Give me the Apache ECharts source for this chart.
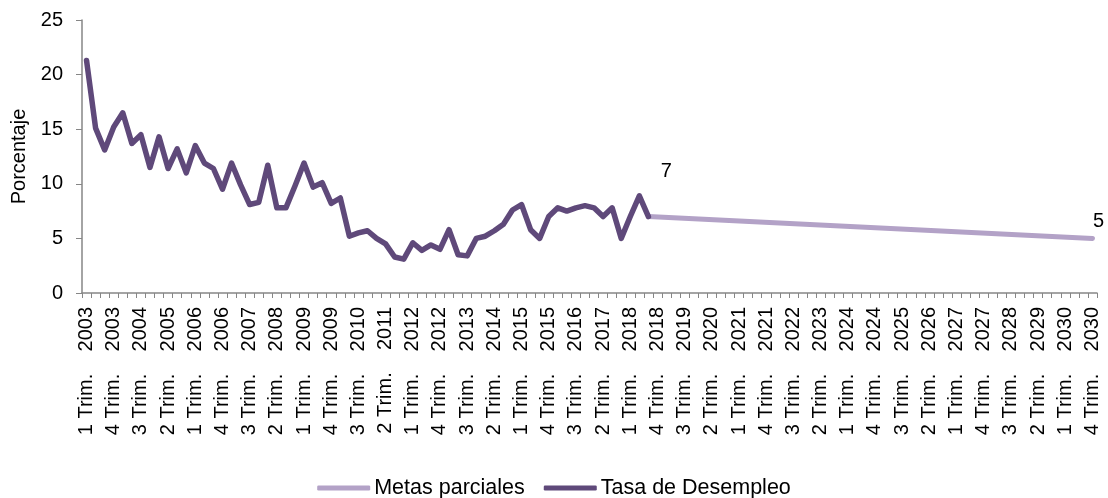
<!DOCTYPE html>
<html>
<head>
<meta charset="utf-8">
<script src="https://cdn.jsdelivr.net/npm/echarts@6/dist/echarts.min.js"></script>
<style>
  html, body { margin: 0; padding: 0; background: #fff; }
  #chart { width: 1108px; height: 498px; }
</style>
</head>
<body>
<div id="chart"></div>
<script>
// Quarter and year names used for the category axis (1 Trim. 2003 ... 4 Trim. 2030)
const years = [2003, 2004, 2005, 2006, 2007, 2008, 2009, 2010, 2011, 2012, 2013, 2014, 2015, 2016,
  2017, 2018, 2019, 2020, 2021, 2022, 2023, 2024, 2025, 2026, 2027, 2028, 2029, 2030];
const quarters = ['1 Trim.', '2 Trim.', '3 Trim.', '4 Trim.'];

// Quarterly unemployment rate (%), from 1 Trim. 2003 onward
const tasaDesempleo = [
  21.3, 15.1, 13.1, 15.2, 16.5, 13.7, 14.5, 11.5,
  14.3, 11.4, 13.2, 11.0, 13.5, 11.9, 11.4, 9.5,
  11.9, 9.9, 8.1, 8.3, 11.7, 7.8, 7.8, 9.8,
  11.9, 9.7, 10.1, 8.2, 8.7, 5.2, 5.5, 5.7,
  5.0, 4.5, 3.3, 3.1, 4.6, 3.9, 4.4, 4.0,
  5.8, 3.5, 3.4, 5.0, 5.2, 5.7, 6.3, 7.6,
  8.1, 5.8, 5.0, 7.0, 7.8, 7.5, 7.8, 8.0,
  7.8, 7.0, 7.8, 5.0, 7.0, 8.9, 7.0
];

// Partial targets: start and end of the goal path
const metasQuarters = ['3 Trim.', '4 Trim.'];
const metasYears = [2018, 2030];
const metasValores = [7, 5];

const yTicks = { min: 0, max: 25, interval: 5 };

// Quarter and year are separated by a wide gap on the rotated labels
const GAP = '\u00a0\u00a0\u00a0\u00a0';
const label = (q, y) => q + GAP + y;
const categories = [];
years.forEach(y => quarters.forEach(q => categories.push(label(q, y))));

const font = 'Liberation Sans, Arial, sans-serif';
const axisGray = '#868686';

const metasLabelStyle = [
  { offset: [18, -30] },
  { offset: [6, -2] }
];
const metasData = metasValores.map((v, i) => ({
  value: [label(metasQuarters[i], metasYears[i]), v],
  label: Object.assign({
    show: true, position: 'top', formatter: String(v),
    fontSize: 20, color: '#000', fontFamily: font
  }, metasLabelStyle[i])
}));

const chart = echarts.init(document.getElementById('chart'), null, { renderer: 'canvas' });
chart.setOption({
  animation: false,
  backgroundColor: '#fff',
  textStyle: { fontFamily: font },
  grid: { left: 82, right: 11, top: 20, bottom: 205, containLabel: false, outerBoundsMode: 'none' },
  legend: {
    top: 472,
    left: 'center',
    data: ['Metas parciales', 'Tasa de Desempleo'],
    icon: 'roundRect',
    itemWidth: 53,
    itemHeight: 5,
    itemGap: 19,
    textStyle: { fontSize: 21.5, color: '#000', fontFamily: font, padding: [0, 0, 0, -1] }
  },
  xAxis: {
    type: 'category',
    data: categories,
    boundaryGap: true,
    axisLine: { lineStyle: { color: axisGray, width: 1.5 } },
    axisTick: { show: true, interval: 0, alignWithLabel: false, length: 5, lineStyle: { color: axisGray } },
    axisLabel: { interval: 2, rotate: 90, margin: 14, fontSize: 20, color: '#000', fontFamily: font },
    splitLine: { show: false }
  },
  yAxis: {
    type: 'value',
    min: yTicks.min,
    max: yTicks.max,
    interval: yTicks.interval,
    name: 'Porcentaje',
    nameLocation: 'middle',
    nameRotate: 90,
    nameGap: 53,
    nameTextStyle: { fontSize: 20, color: '#000', fontFamily: font },
    axisLine: { show: true, lineStyle: { color: axisGray, width: 1.5 } },
    axisTick: { show: true, length: 6, lineStyle: { color: axisGray } },
    axisLabel: { fontSize: 20, color: '#000', margin: 19, fontFamily: font },
    splitLine: { show: false }
  },
  series: [
    {
      name: 'Metas parciales',
      type: 'line',
      data: metasData,
      symbol: 'circle',
      symbolSize: 0,
      color: '#b3a2c7',
      lineStyle: { color: '#b3a2c7', width: 5, cap: 'round' },
      z: 2
    },
    {
      name: 'Tasa de Desempleo',
      type: 'line',
      data: tasaDesempleo,
      symbol: 'none',
      color: '#5f497a',
      lineStyle: { color: '#5f497a', width: 5.5, cap: 'round', join: 'round' },
      z: 3
    }
  ]
});
</script>
</body>
</html>
